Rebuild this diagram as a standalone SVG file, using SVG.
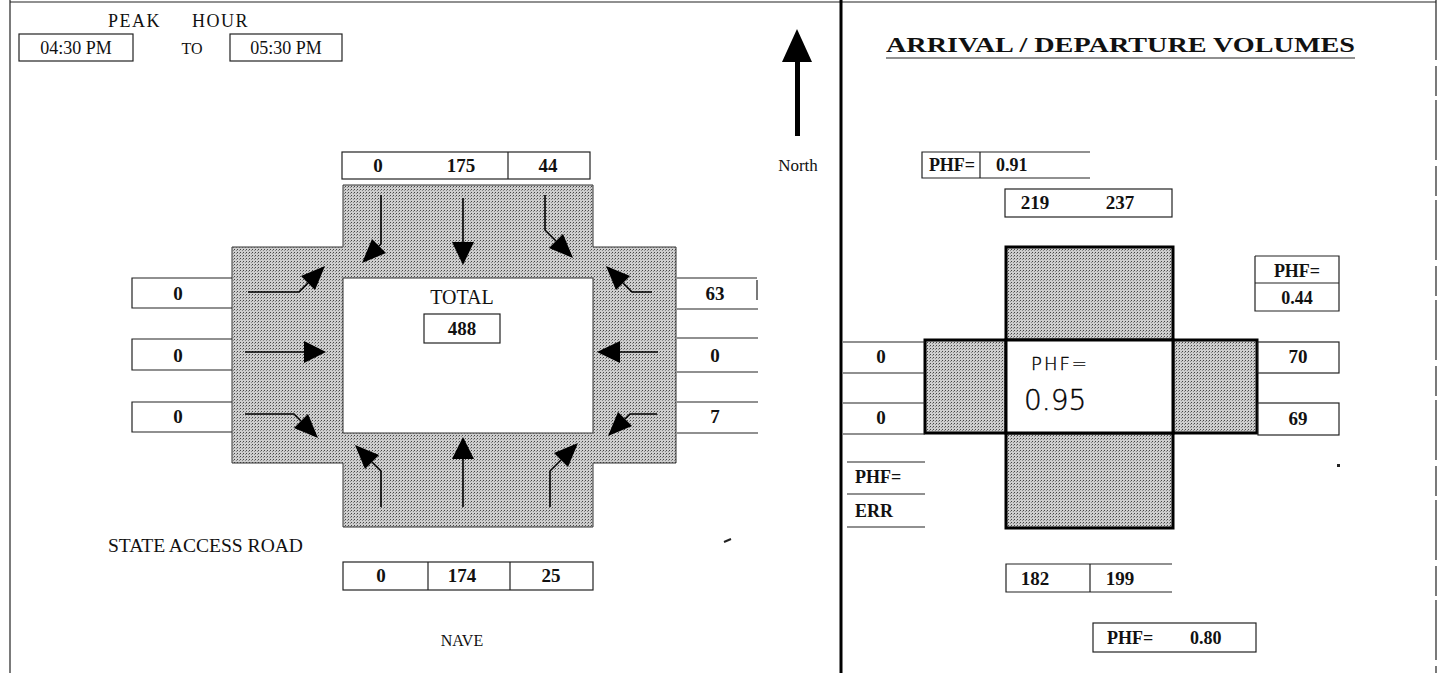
<svg xmlns="http://www.w3.org/2000/svg" width="1444" height="673" viewBox="0 0 1444 673">
<defs>
<pattern id="dots" width="3" height="3" patternUnits="userSpaceOnUse">
<rect width="3" height="3" fill="#cecece"/>
<rect width="1" height="1" fill="#444"/>
<rect x="2" y="1" width="1" height="1" fill="#888"/>
</pattern>
<style>
.txt{font-family:"Liberation Serif","Times New Roman",serif;fill:#111}
.b{font-weight:bold}
.box{fill:#fff;stroke:#222;stroke-width:1.2}
.ln{stroke:#222;stroke-width:1.2;fill:none}
.shade{fill:url(#dots);stroke:#333;stroke-width:1}
.shaft{fill:none;stroke:#000;stroke-width:1.6}
.head{fill:#000}
.hand{font-family:"DejaVu Sans","Noto Sans",sans-serif;font-weight:200;fill:#000;stroke:#000;stroke-width:0.4}
</style>
</defs>
<rect width="1444" height="673" fill="#fff"/>

<g id="frame">
<line class="ln" x1="10" y1="2" x2="1436" y2="2" stroke-width="1.5"/>
<line class="ln" x1="10" y1="0" x2="10" y2="673" stroke-width="1.5"/>
<line x1="841" y1="0" x2="841" y2="673" stroke="#000" stroke-width="3"/>
<line class="ln" x1="1436" y1="0" x2="1436" y2="673" stroke-width="1.5" stroke-dasharray="60 6 30 4"/>
</g>

<g id="peak-hour">
<text class="txt" y="27" font-size="18" letter-spacing="1.5"><tspan x="108">PEAK</tspan><tspan x="192">HOUR</tspan></text>
<rect class="box" x="19" y="34" width="114" height="27" stroke-width="2.2"/>
<text class="txt" x="76" y="54" font-size="18" text-anchor="middle">04:30 PM</text>
<text class="txt" x="192" y="54" font-size="16" text-anchor="middle">TO</text>
<rect class="box" x="230" y="34" width="112" height="27" stroke-width="2.2"/>
<text class="txt" x="286" y="54" font-size="18" text-anchor="middle">05:30 PM</text>
</g>

<g id="north">
<polygon class="head" points="797,29 812,62 782,62"/>
<rect x="795" y="60" width="5" height="76" fill="#000"/>
<text class="txt" x="798" y="171" font-size="17" text-anchor="middle">North</text>
</g>

<g id="intersection-left">
<polygon class="shade" points="343,185 593,185 593,247 676,247 676,463 593,463 593,527 343,527 343,463 232,463 232,247 343,247"/>
<rect x="343" y="278" width="250" height="155" fill="#fff" stroke="#333" stroke-width="1"/>
<text class="txt" x="462" y="304" font-size="20" text-anchor="middle">TOTAL</text>
<rect class="box" x="424" y="314" width="76" height="29"/>
<text class="txt b" x="462" y="335" font-size="19" text-anchor="middle">488</text>
</g>

<g id="counts-north">
<rect class="box" x="342" y="152" width="248" height="27"/>
<line class="ln" x1="508" y1="152" x2="508" y2="179"/>
<text class="txt b" x="378" y="172" font-size="19" text-anchor="middle">0</text>
<text class="txt b" x="461" y="172" font-size="19" text-anchor="middle">175</text>
<text class="txt b" x="548" y="172" font-size="19" text-anchor="middle">44</text>
</g>

<g id="counts-west">
<path class="ln" d="M232,278 H132 V308 H232 M232,339 H132 V370 H232 M232,402 H132 V432 H232"/>
<text class="txt b" x="178" y="300" font-size="19" text-anchor="middle">0</text>
<text class="txt b" x="178" y="362" font-size="19" text-anchor="middle">0</text>
<text class="txt b" x="178" y="423" font-size="19" text-anchor="middle">0</text>
</g>

<g id="counts-east">
<path class="ln" d="M677,278 H757 M757,280 V300 M677,309 H758 M677,338 H758 M677,372 H758 M677,402 H758 M677,433 H758"/>
<text class="txt b" x="715" y="300" font-size="19" text-anchor="middle">63</text>
<text class="txt b" x="715" y="362" font-size="19" text-anchor="middle">0</text>
<text class="txt b" x="715" y="423" font-size="19" text-anchor="middle">7</text>
</g>

<g id="counts-south">
<rect class="box" x="343" y="562" width="250" height="28"/>
<line class="ln" x1="428" y1="562" x2="428" y2="590"/>
<line class="ln" x1="510" y1="562" x2="510" y2="590"/>
<text class="txt b" x="381" y="582" font-size="19" text-anchor="middle">0</text>
<text class="txt b" x="462" y="582" font-size="19" text-anchor="middle">174</text>
<text class="txt b" x="551" y="582" font-size="19" text-anchor="middle">25</text>
</g>

<g id="street-labels">
<text class="txt" x="108" y="552" font-size="18" textLength="195" lengthAdjust="spacingAndGlyphs">STATE ACCESS ROAD</text>
<text class="txt" x="462" y="646" font-size="16" text-anchor="middle">NAVE</text>
</g>

<g id="connectors">
<path class="shaft" d="M248,292 H299 L308,283"/>
<polygon class="head" points="325,266 315,290 301,276"/>
<path class="shaft" d="M245,352 H305"/>
<polygon class="head" points="304,341 326,352 304,363"/>
<path class="shaft" d="M245,414 H294 L301,421"/>
<polygon class="head" points="318,438 308,414 294,428"/>
<path class="shaft" d="M652,292 H632 L623,283"/>
<polygon class="head" points="606,266 630,276 616,290"/>
<path class="shaft" d="M658,352 H619"/>
<polygon class="head" points="620,341 597,352 620,363"/>
<path class="shaft" d="M657,414 H630 L625,419"/>
<polygon class="head" points="608,436 618,412 632,426"/>
<path class="shaft" d="M381,195 V244 L379,246"/>
<polygon class="head" points="362,263 386,253 372,239"/>
<path class="shaft" d="M463,198 V243"/>
<polygon class="head" points="452,242 474,242 463,265"/>
<path class="shaft" d="M545,195 V230 L556,241"/>
<polygon class="head" points="573,258 563,234 549,248"/>
<path class="shaft" d="M381,507 V471 L372,462"/>
<polygon class="head" points="355,445 379,455 365,469"/>
<path class="shaft" d="M463,507 V458"/>
<polygon class="head" points="452,459 474,459 463,437"/>
<path class="shaft" d="M550,507 V471 L561,460"/>
<polygon class="head" points="578,443 554,453 568,467"/>
<path class="shaft" d="M1047,257 V304"/>
<polygon class="head" points="1035,303 1059,303 1047,327"/>
<path class="shaft" d="M1129,322 V276"/>
<polygon class="head" points="1117,277 1141,277 1129,252"/>
<path class="shaft" d="M986,353 H956"/>
<polygon class="head" points="957,343 957,363 934,353"/>
<path class="shaft" d="M936,415 H979"/>
<polygon class="head" points="978,405 978,425 1000,415"/>
<path class="shaft" d="M1244,353 H1202"/>
<polygon class="head" points="1203,343 1203,363 1180,353"/>
<path class="shaft" d="M1180,417 H1226"/>
<polygon class="head" points="1225,407 1225,427 1247,417"/>
<path class="shaft" d="M1048,445 V491"/>
<polygon class="head" points="1036,490 1060,490 1048,512"/>
<path class="shaft" d="M1129,512 V462"/>
<polygon class="head" points="1117,463 1141,463 1129,443"/>
</g>

<g id="title">
<text class="txt b" x="886" y="52" font-size="21" textLength="469" lengthAdjust="spacingAndGlyphs">ARRIVAL / DEPARTURE  VOLUMES</text>
<line class="ln" x1="886" y1="58" x2="1355" y2="58" stroke-width="1.5"/>
</g>

<g id="phf-north">
<path class="ln" d="M1090,152 H922 V178 H1090 M980,152 V178"/>
<text class="txt b" x="952" y="171" font-size="18" text-anchor="middle">PHF=</text>
<text class="txt b" x="996" y="171" font-size="18">0.91</text>
</g>

<g id="vol-north">
<rect class="box" x="1005" y="189" width="167" height="28"/>
<text class="txt b" x="1035" y="209" font-size="19" text-anchor="middle">219</text>
<text class="txt b" x="1120" y="209" font-size="19" text-anchor="middle">237</text>
</g>

<g id="intersection-right">
<rect x="1006" y="247" width="167" height="93" fill="url(#dots)" stroke="#000" stroke-width="3"/>
<rect x="925" y="340" width="81" height="93" fill="url(#dots)" stroke="#000" stroke-width="3"/>
<rect x="1173" y="340" width="84" height="93" fill="url(#dots)" stroke="#000" stroke-width="3"/>
<rect x="1006" y="433" width="167" height="95" fill="url(#dots)" stroke="#000" stroke-width="3"/>
<rect x="1006" y="340" width="167" height="93" fill="#fff" stroke="#000" stroke-width="3"/>
<text class="hand" x="1060" y="370" font-size="18" text-anchor="middle" letter-spacing="2">PHF=</text>
<text class="hand" x="1024" y="410" font-size="28">0.95</text>
</g>

<g id="phf-east">
<path class="ln" d="M1255,256 H1339 V311 H1255 V256 M1255,283 H1339"/>
<text class="txt b" x="1297" y="277" font-size="18" text-anchor="middle">PHF=</text>
<text class="txt b" x="1297" y="304" font-size="18" text-anchor="middle">0.44</text>
</g>

<g id="vol-west">
<path class="ln" d="M843,342 H925 M843,373 H925 M843,403 H925 M843,434 H925"/>
<text class="txt b" x="881" y="363" font-size="19" text-anchor="middle">0</text>
<text class="txt b" x="881" y="424" font-size="19" text-anchor="middle">0</text>
</g>

<g id="vol-east">
<rect class="box" x="1258" y="342" width="81" height="31"/>
<rect class="box" x="1258" y="403" width="81" height="32"/>
<text class="txt b" x="1298" y="363" font-size="19" text-anchor="middle">70</text>
<text class="txt b" x="1298" y="425" font-size="19" text-anchor="middle">69</text>
</g>

<g id="phf-west">
<path class="ln" d="M847,462 H925 M847,494 H925 M847,527 H925"/>
<text class="txt b" x="855" y="483" font-size="18">PHF=</text>
<text class="txt b" x="855" y="517" font-size="18">ERR</text>
</g>

<g id="vol-south">
<path class="ln" d="M1172,564 H1006 V592 H1172 M1090,564 V592"/>
<text class="txt b" x="1035" y="585" font-size="19" text-anchor="middle">182</text>
<text class="txt b" x="1120" y="585" font-size="19" text-anchor="middle">199</text>
</g>

<g id="phf-south">
<rect class="box" x="1093" y="623" width="163" height="29"/>
<text class="txt b" x="1107" y="644" font-size="18">PHF=</text>
<text class="txt b" x="1190" y="644" font-size="18">0.80</text>
</g>

<g id="marks">
<rect x="1337" y="464" width="3" height="3" fill="#222"/>
<line x1="724" y1="542" x2="731" y2="539" stroke="#222" stroke-width="2"/>
</g>
</svg>
